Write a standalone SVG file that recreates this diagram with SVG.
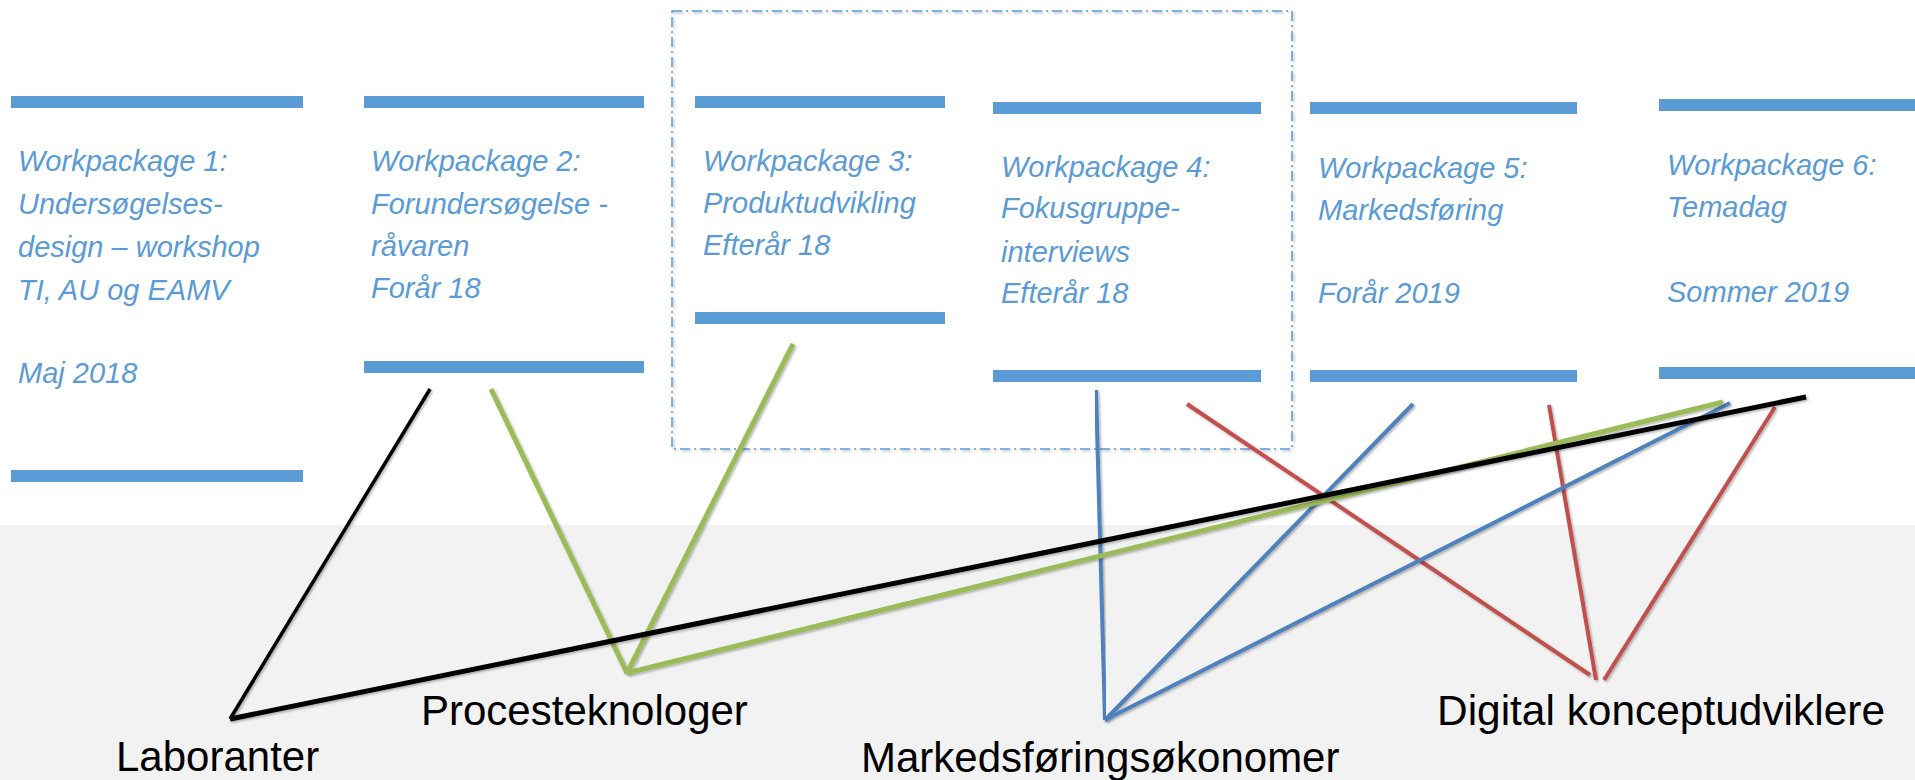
<svg xmlns="http://www.w3.org/2000/svg" width="1915" height="780" viewBox="0 0 1915 780">
  <style>
    .bar { fill: #5b9bd5; }
    .wp { font-family: "Liberation Sans", Arial, sans-serif; font-style: italic; font-size: 29px; fill: #5b9bd5; }
    .role { font-family: "Liberation Sans", Arial, sans-serif; font-size: 42px; fill: #000; }
    .link { fill: none; stroke-linecap: butt; filter: url(#shade); }
    .blk { stroke: #000; }
    .grn { stroke: #9bbb59; stroke-width: 5; }
    .blu { stroke: #4f81bd; stroke-width: 4; }
    .red { stroke: #c0504d; stroke-width: 4; }
  </style>
  <defs>
    <filter id="shade" x="-5%" y="-5%" width="110%" height="110%">
      <feDropShadow dx="1.5" dy="1.5" stdDeviation="1.2" flood-color="#000" flood-opacity="0.3"/>
    </filter>
  </defs>

  <!-- backgrounds -->
  <rect x="0" y="0" width="1915" height="780" fill="#ffffff"/>
  <rect x="0" y="525" width="1915" height="255" fill="#f2f2f2"/>

  <!-- grouping frame around workpackages 3 and 4 -->
  <rect id="frame" x="672" y="11" width="620" height="438" fill="none" stroke="#5b9bd5" stroke-width="1.5" stroke-dasharray="10 4 2 4" filter="url(#shade)"/>

  <g id="wp1">
    <rect class="bar" x="11" y="96" width="292" height="12"/>
    <text class="wp" x="18" y="171">Workpackage 1:</text>
    <text class="wp" x="18" y="214">Undersøgelses-</text>
    <text class="wp" x="18" y="257">design – workshop</text>
    <text class="wp" x="18" y="300">TI, AU og EAMV</text>
    <text class="wp" x="18" y="383">Maj 2018</text>
    <rect class="bar" x="11" y="470" width="292" height="12"/>
  </g>

  <g id="wp2">
    <rect class="bar" x="364" y="96" width="280" height="12"/>
    <text class="wp" x="371" y="171">Workpackage 2:</text>
    <text class="wp" x="371" y="214">Forundersøgelse -</text>
    <text class="wp" x="371" y="256">råvaren</text>
    <text class="wp" x="371" y="298">Forår 18</text>
    <rect class="bar" x="364" y="361" width="280" height="12"/>
  </g>

  <g id="wp3">
    <rect class="bar" x="695" y="96" width="250" height="12"/>
    <text class="wp" x="703" y="171">Workpackage 3:</text>
    <text class="wp" x="703" y="213">Produktudvikling</text>
    <text class="wp" x="703" y="255">Efterår 18</text>
    <rect class="bar" x="695" y="312" width="250" height="12"/>
  </g>

  <g id="wp4">
    <rect class="bar" x="993" y="102" width="268" height="12"/>
    <text class="wp" x="1001" y="177">Workpackage 4:</text>
    <text class="wp" x="1001" y="218">Fokusgruppe-</text>
    <text class="wp" x="1001" y="262">interviews</text>
    <text class="wp" x="1001" y="303">Efterår 18</text>
    <rect class="bar" x="993" y="370" width="268" height="12"/>
  </g>

  <g id="wp5">
    <rect class="bar" x="1310" y="102" width="267" height="12"/>
    <text class="wp" x="1318" y="178">Workpackage 5:</text>
    <text class="wp" x="1318" y="220">Markedsføring</text>
    <text class="wp" x="1318" y="303">Forår 2019</text>
    <rect class="bar" x="1310" y="370" width="267" height="12"/>
  </g>

  <g id="wp6">
    <rect class="bar" x="1659" y="99" width="256" height="12"/>
    <text class="wp" x="1667" y="175">Workpackage 6:</text>
    <text class="wp" x="1667" y="217">Temadag</text>
    <text class="wp" x="1667" y="302">Sommer 2019</text>
    <rect class="bar" x="1659" y="367" width="256" height="12"/>
  </g>

  <g id="laboranter">
    <text class="role" x="116" y="771">Laboranter</text>
  </g>
  <g id="procesteknologer">
    <text class="role" x="421" y="725">Procesteknologer</text>
  </g>
  <g id="markedsforingsokonomer">
    <text class="role" x="861" y="772">Markedsføringsøkonomer</text>
  </g>
  <g id="digital-konceptudviklere">
    <text class="role" x="1437" y="725" textLength="448" lengthAdjust="spacingAndGlyphs">Digital konceptudviklere</text>
  </g>

  <!-- links from roles to workpackages -->
  <g id="connectors">
    <line class="link red" x1="1187" y1="404" x2="1590" y2="675"/>
    <line class="link red" x1="1549" y1="405" x2="1596" y2="680"/>
    <line class="link red" x1="1775" y1="407" x2="1604" y2="680"/>

    <line class="link blu" x1="1096" y1="390" x2="1105" y2="720"/>
    <line class="link blu" x1="1413" y1="404" x2="1105" y2="720"/>
    <line class="link blu" x1="1730" y1="403" x2="1105" y2="720"/>

    <line class="link grn" x1="491" y1="389" x2="627" y2="673"/>
    <line class="link grn" x1="793" y1="344" x2="627" y2="673"/>
    <line class="link grn" x1="627" y1="673" x2="1723" y2="402"/>

    <line class="link blk" stroke-width="3.5" x1="430" y1="389" x2="230" y2="719"/>
    <line class="link blk" stroke-width="5" x1="230" y1="719" x2="1806" y2="397"/>
  </g>
</svg>
